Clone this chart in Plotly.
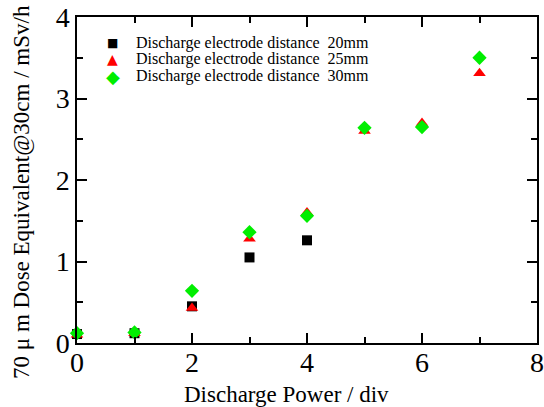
import plotly.graph_objects as go

power = [0, 1, 2, 3, 4, 5, 6, 7]
d20_x = [0, 1, 2, 3, 4]
d20 = [0.11, 0.12, 0.45, 1.05, 1.26]
d25 = [0.10, 0.12, 0.43, 1.28, 1.60, 2.60, 2.70, 3.31]
d30 = [0.12, 0.13, 0.64, 1.36, 1.56, 2.64, 2.65, 3.50]
names = ["Discharge electrode distance\u00a0\u00a020mm",
         "Discharge electrode distance\u00a0\u00a025mm",
         "Discharge electrode distance\u00a0\u00a030mm"]
colors = ["black", "red", "#00ee00"]
glyphs = ["\u25a0", "\u25b2", "\u25c6"]
glyph_sizes = [12, 14, 18]
x_title = "Discharge Power / div"
y_title = "70 \u03bc m Dose Equivalent@30cm / mSv/h"

fig = go.Figure()
fig.add_trace(go.Scatter(x=d20_x, y=d20, mode="markers", name=names[0], cliponaxis=False,
                         marker=dict(symbol="square", size=10, color=colors[0])))
fig.add_trace(go.Scatter(x=power, y=d25, mode="markers", name=names[1], cliponaxis=False,
                         marker=dict(symbol="triangle-up", size=11, color=colors[1])))
fig.add_trace(go.Scatter(x=power, y=d30, mode="markers", name=names[2], cliponaxis=False,
                         marker=dict(symbol="diamond", size=11, color=colors[2])))

font = "Times New Roman"
row_y = [0.920, 0.871, 0.819]
for i in range(3):
    fig.add_annotation(xref="paper", yref="paper", x=0.078, y=row_y[i],
                       text=glyphs[i], showarrow=False, xanchor="center", yanchor="middle",
                       font=dict(family="DejaVu Sans", size=glyph_sizes[i], color=colors[i]))
    fig.add_annotation(xref="paper", yref="paper", x=0.124, y=row_y[i],
                       text=names[i], showarrow=False, xanchor="left", yanchor="middle",
                       font=dict(family=font, size=16, color="black"))

fig.add_annotation(xref="paper", yref="paper", x=0.455, y=-0.157, text=x_title,
                   showarrow=False, xanchor="center", yanchor="middle",
                   font=dict(family=font, size=23, color="black"))
fig.add_annotation(xref="paper", yref="paper", x=-0.122, y=0.463, text=y_title,
                   showarrow=False, xanchor="center", yanchor="middle", textangle=-90,
                   font=dict(family=font, size=23, color="black"))

axis_common = dict(showline=True, linecolor="black", linewidth=1.5, mirror="ticks",
                   ticks="inside", ticklen=10, tickwidth=1.5, tickcolor="black",
                   showgrid=False, zeroline=False, automargin=False,
                   tickfont=dict(family=font, size=28, color="black"))
fig.update_layout(
    width=544, height=407,
    margin=dict(l=77, r=7, t=17, b=64),
    paper_bgcolor="white", plot_bgcolor="white",
    showlegend=False,
    xaxis=dict(range=[0, 8], dtick=2, ticklabelstandoff=-6,
               minor=dict(dtick=1, ticks="inside", ticklen=6, tickcolor="black", tickwidth=1.5),
               **axis_common),
    yaxis=dict(range=[0, 4], dtick=1,
               minor=dict(dtick=0.5, ticks="inside", ticklen=6, tickcolor="black", tickwidth=1.5),
               **axis_common),
)
fig.write_html("out.html")
